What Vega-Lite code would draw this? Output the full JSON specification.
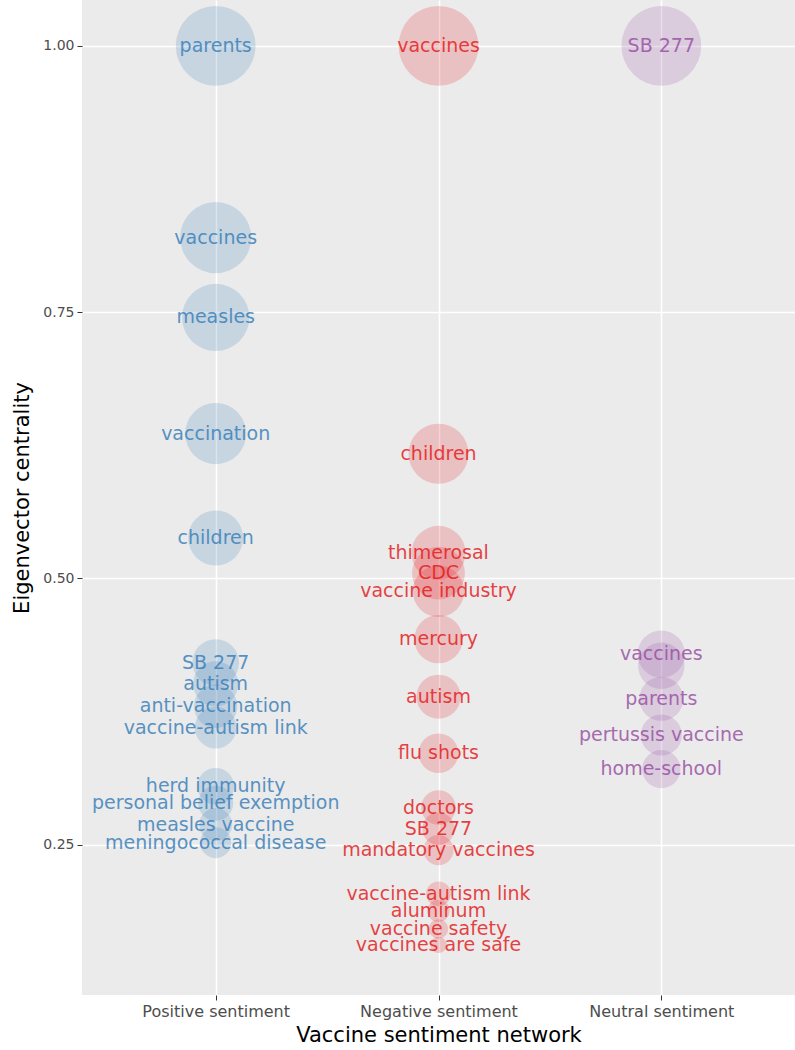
{
  "$schema": "https://vega.github.io/schema/vega-lite/v6.json",
  "autosize": {"type": "none"},
  "padding": {"left": 82, "top": 0, "right": 0, "bottom": 55},
  "width": 713,
  "height": 995,
  "background": "white",
  "config": {
    "view": {"fill": "#EBEBEB", "stroke": null},
    "font": "DejaVu Sans"
  },
  "datasets": {
    "nodes": [
      {"network": "Positive sentiment", "term": "parents", "centrality": 1.0},
      {"network": "Positive sentiment", "term": "vaccines", "centrality": 0.82},
      {"network": "Positive sentiment", "term": "measles", "centrality": 0.745},
      {"network": "Positive sentiment", "term": "vaccination", "centrality": 0.636},
      {"network": "Positive sentiment", "term": "children", "centrality": 0.538},
      {"network": "Positive sentiment", "term": "SB 277", "centrality": 0.421},
      {"network": "Positive sentiment", "term": "autism", "centrality": 0.401},
      {"network": "Positive sentiment", "term": "anti-vaccination", "centrality": 0.38},
      {"network": "Positive sentiment", "term": "vaccine-autism link", "centrality": 0.36},
      {"network": "Positive sentiment", "term": "herd immunity", "centrality": 0.305},
      {"network": "Positive sentiment", "term": "personal belief exemption", "centrality": 0.289},
      {"network": "Positive sentiment", "term": "measles vaccine", "centrality": 0.269},
      {"network": "Positive sentiment", "term": "meningococcal disease", "centrality": 0.252},
      {"network": "Negative sentiment", "term": "vaccines", "centrality": 1.0},
      {"network": "Negative sentiment", "term": "children", "centrality": 0.617},
      {"network": "Negative sentiment", "term": "thimerosal", "centrality": 0.524},
      {"network": "Negative sentiment", "term": "CDC", "centrality": 0.505},
      {"network": "Negative sentiment", "term": "vaccine industry", "centrality": 0.488},
      {"network": "Negative sentiment", "term": "mercury", "centrality": 0.443},
      {"network": "Negative sentiment", "term": "autism", "centrality": 0.389},
      {"network": "Negative sentiment", "term": "flu shots", "centrality": 0.336},
      {"network": "Negative sentiment", "term": "doctors", "centrality": 0.285},
      {"network": "Negative sentiment", "term": "SB 277", "centrality": 0.265},
      {"network": "Negative sentiment", "term": "mandatory vaccines", "centrality": 0.245},
      {"network": "Negative sentiment", "term": "vaccine-autism link", "centrality": 0.204},
      {"network": "Negative sentiment", "term": "aluminum", "centrality": 0.188},
      {"network": "Negative sentiment", "term": "vaccine safety", "centrality": 0.171},
      {"network": "Negative sentiment", "term": "vaccines are safe", "centrality": 0.156},
      {"network": "Neutral sentiment", "term": "SB 277", "centrality": 1.0},
      {"network": "Neutral sentiment", "term": "vaccines", "centrality": 0.429},
      {"network": "Neutral sentiment", "term": null, "centrality": 0.418},
      {"network": "Neutral sentiment", "term": "parents", "centrality": 0.387},
      {"network": "Neutral sentiment", "term": "pertussis vaccine", "centrality": 0.353},
      {"network": "Neutral sentiment", "term": "home-school", "centrality": 0.321}
    ],
    "minor": [
      {"value": 0.125},
      {"value": 0.375},
      {"value": 0.625},
      {"value": 0.875}
    ]
  },
  "layer": [
    {
      "data": {"name": "minor"},
      "mark": {"type": "rule", "color": "white", "strokeWidth": 0.8},
      "encoding": {
        "y": {"field": "value", "type": "quantitative", "scale": {"domain": [0.109, 1.043], "nice": false, "zero": false}}
      }
    },
    {
      "data": {"name": "nodes"},
      "mark": {"type": "circle", "opacity": 0.2},
      "encoding": {
        "x": {"field": "network", "type": "nominal"},
        "y": {"field": "centrality", "type": "quantitative"},
        "size": {"field": "centrality", "type": "quantitative", "scale": {"domain": [0.119, 1.0], "range": [0, 6361], "zero": false}, "legend": null},
        "color": {"field": "network", "type": "nominal", "legend": null}
      }
    },
    {
      "data": {"name": "nodes"},
      "transform": [{"filter": "isValid(datum.term)"}],
      "mark": {"type": "text", "fontSize": 19, "font": "DejaVu Sans", "opacity": 0.82, "baseline": "middle", "align": "center"},
      "encoding": {
        "x": {"field": "network", "type": "nominal"},
        "y": {"field": "centrality", "type": "quantitative"},
        "text": {"field": "term"},
        "color": {"field": "network", "type": "nominal", "legend": null}
      }
    }
  ],
  "encoding": {
    "x": {
      "field": "network",
      "type": "nominal",
      "sort": ["Positive sentiment", "Negative sentiment", "Neutral sentiment"],
      "scale": {"type": "point", "padding": 0.6, "domain": ["Positive sentiment", "Negative sentiment", "Neutral sentiment"]},
      "title": "Vaccine sentiment network",
      "axis": {
        "labelAngle": 0,
        "domain": false,
        "grid": true,
        "gridColor": "white",
        "gridWidth": 1.6,
        "tickColor": "#333333",
        "tickSize": 5,
        "labelPadding": 3,
        "labelFontSize": 16,
        "labelColor": "#4D4D4D",
        "titleFontSize": 21,
        "titleFontWeight": "normal",
        "titleColor": "#000000",
        "titlePadding": 5
      }
    },
    "y": {
      "field": "centrality",
      "type": "quantitative",
      "scale": {"domain": [0.109, 1.043], "nice": false, "zero": false},
      "title": "Eigenvector centrality",
      "axis": {
        "values": [0.25, 0.5, 0.75, 1.0],
        "format": ".2f",
        "domain": false,
        "grid": true,
        "gridColor": "white",
        "gridWidth": 1.6,
        "tickColor": "#333333",
        "tickSize": 5,
        "labelPadding": 3,
        "labelFontSize": 14,
        "labelColor": "#4D4D4D",
        "titleFontSize": 21,
        "titleFontWeight": "normal",
        "titleColor": "#000000",
        "titlePadding": 10
      }
    },
    "color": {
      "field": "network",
      "type": "nominal",
      "scale": {"domain": ["Positive sentiment", "Negative sentiment", "Neutral sentiment"], "range": ["#377EB8", "#E41A1C", "#984EA3"]}
    }
  }
}
